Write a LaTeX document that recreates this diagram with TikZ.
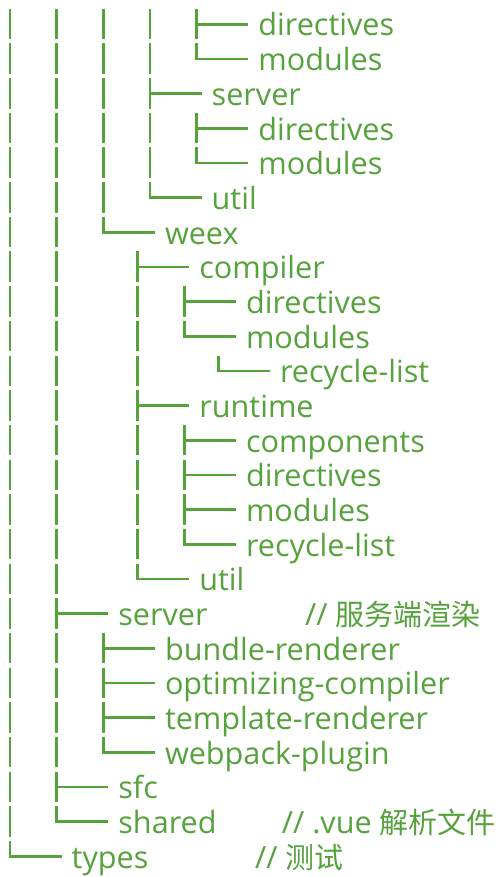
\documentclass[tikz,border=0pt]{standalone}
\usepackage{fontspec}
\setmainfont{Open Sans}
\newfontfamily\cjkfont{Noto Sans CJK SC}
\definecolor{treegreen}{RGB}{86,162,60}

% column positions of the tree guides
\def\cA{10}
\def\cB{56.7}
\def\cC{103.3}
\def\cD{150}
\def\cE{196.7}
\def\cW{137.7}
\def\cX{184.3}
\def\cR{218.3}

% row k sits at y = 24.3 + 34.67 k
\newcommand\ry[1]{24.3+34.67*#1}
% a vertical guide for one row
\newcommand\tpipe[2]{\draw[guide] (#1,{\ry{#2}-15.5}) -- (#1,{\ry{#2}+15});}
% a branch that continues downwards
\newcommand\ttee[2]{\draw[guide] (#1,{\ry{#2}-15.5}) -- (#1,{\ry{#2}+15});
  \draw[guide] (#1,{\ry{#2}}) -- ({#1+51.5},{\ry{#2}});}
% the last branch of a folder
\newcommand\telbow[2]{\draw[guide] (#1,{\ry{#2}-15.5}) -- (#1,{\ry{#2}}) -- ({#1+51.5},{\ry{#2}});}
% a folder name: node name, column, row, text
\newcommand\tleaf[4]{\node[lbl] (#1) at ({#2+61.5},{\ry{#3}+11.7}) {#4};}
\newcommand\cjk[1]{{\fontsize{29}{34}\cjkfont #1}}

\begin{document}
\begin{tikzpicture}[x=1pt,y=-1pt,
  guide/.style={draw=treegreen,line width=2.8pt,line join=miter},
  lbl/.style={text=treegreen,anchor=base west,inner sep=0pt,
    font=\fontsize{30.6}{36}\selectfont}]
\useasboundingbox (0,0) rectangle (502,877);

% outer guides
\foreach \k in {0,...,23} {\tpipe{\cA}{\k}}
\telbow{\cA}{24}
\foreach \k in {0,...,16,18,19,20,21} {\tpipe{\cB}{\k}}
\ttee{\cB}{17} \ttee{\cB}{22} \telbow{\cB}{23}
\foreach \k in {0,...,5} {\tpipe{\cC}{\k}}
\telbow{\cC}{6}
\ttee{\cC}{18} \ttee{\cC}{19} \ttee{\cC}{20} \telbow{\cC}{21}
\foreach \k in {0,1,3,4} {\tpipe{\cD}{\k}}
\ttee{\cD}{2} \telbow{\cD}{5}
\ttee{\cE}{0} \telbow{\cE}{1} \ttee{\cE}{3} \telbow{\cE}{4}
% weex subtree
\ttee{\cW}{7} \ttee{\cW}{11}
\foreach \k in {8,9,10,12,13,14,15} {\tpipe{\cW}{\k}}
\telbow{\cW}{16}
\ttee{\cX}{8} \telbow{\cX}{9}
\ttee{\cX}{12} \ttee{\cX}{13} \ttee{\cX}{14} \telbow{\cX}{15}
\telbow{\cR}{10}

% folder names
\tleaf{d0}{\cE}{0}{directives}
\tleaf{m1}{\cE}{1}{modules}
\tleaf{s2}{\cD}{2}{server}
\tleaf{d3}{\cE}{3}{directives}
\tleaf{m4}{\cE}{4}{modules}
\tleaf{u5}{\cD}{5}{util}
\tleaf{weex}{\cC}{6}{weex}
\tleaf{wc}{\cW}{7}{compiler}
\tleaf{wcd}{\cX}{8}{directives}
\tleaf{wcm}{\cX}{9}{modules}
\tleaf{wcr}{\cR}{10}{recycle-list}
\tleaf{wr}{\cW}{11}{runtime}
\tleaf{wrc}{\cX}{12}{components}
\tleaf{wrd}{\cX}{13}{directives}
\tleaf{wrm}{\cX}{14}{modules}
\tleaf{wrr}{\cX}{15}{recycle-list}
\tleaf{wu}{\cW}{16}{util}
\tleaf{srv}{\cB}{17}{server}
\tleaf{sb}{\cC}{18}{bundle-renderer}
\tleaf{so}{\cC}{19}{optimizing-compiler}
\tleaf{st}{\cC}{20}{template-renderer}
\tleaf{sw}{\cC}{21}{webpack-plugin}
\tleaf{sfc}{\cB}{22}{sfc}
\tleaf{shared}{\cB}{23}{shared}
\tleaf{types}{\cA}{24}{types}

% comments
\node[lbl] (csrv) at (305,{\ry{17}+11.7}) {// \cjk{服务端渲染}};
\node[lbl] (cshared) at (281.7,{\ry{23}+11.7}) {// .vue \cjk{解析文件}};
\node[lbl] (ctypes) at (255,{\ry{24}+11.7}) {// \cjk{测试}};
\end{tikzpicture}
\end{document}
